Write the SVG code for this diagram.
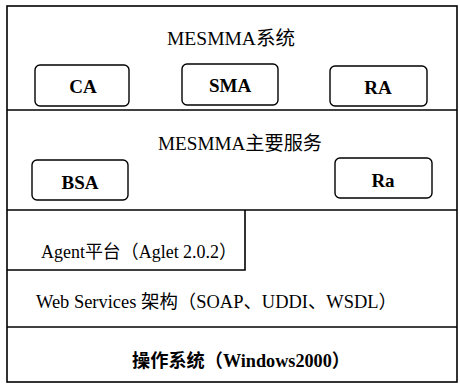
<svg xmlns="http://www.w3.org/2000/svg" width="460" height="385" viewBox="0 0 460 385">
<style>
.ln{stroke:#000;stroke-width:1.6;fill:none}
.bx{stroke:#000;stroke-width:1.4;fill:#fff}
.t{font-family:"Liberation Serif","Noto Sans CJK SC",serif;fill:#000}
.ti{font-size:19px}
.lb{font-size:19px;font-weight:bold}
.nm{font-size:18.5px}
.os{font-size:18.5px;font-weight:bold}
</style>
<rect width="460" height="385" fill="#fff"/>
<g id="frame">
<rect class="ln" x="7" y="6" width="450" height="376"/>
<line class="ln" x1="7" y1="110" x2="457" y2="110"/>
<line class="ln" x1="7" y1="210" x2="457" y2="210"/>
<line class="ln" x1="7" y1="327" x2="457" y2="327"/>
</g>
<g id="mesmma-system">
<text class="t ti" x="167" y="45" textLength="128" lengthAdjust="spacingAndGlyphs">MESMMA系统</text>
</g>
<g id="CA"><rect class="bx" x="35" y="65" width="94" height="41" rx="5"/><text class="t lb" x="83" y="93" text-anchor="middle">CA</text></g>
<g id="SMA"><rect class="bx" x="182" y="64" width="96" height="41" rx="5"/><text class="t lb" x="230" y="92" text-anchor="middle">SMA</text></g>
<g id="RA"><rect class="bx" x="330" y="66" width="97" height="40" rx="5"/><text class="t lb" x="378" y="94" text-anchor="middle">RA</text></g>
<g id="mesmma-services">
<text class="t ti" x="158" y="150" textLength="164" lengthAdjust="spacingAndGlyphs">MESMMA主要服务</text>
</g>
<g id="BSA"><rect class="bx" x="32" y="160" width="96" height="40" rx="5"/><text class="t lb" x="80" y="189" text-anchor="middle">BSA</text></g>
<g id="Ra"><rect class="bx" x="335" y="158" width="97" height="40" rx="5"/><text class="t lb" x="383" y="187" text-anchor="middle">Ra</text></g>
<g id="agent">
<polyline class="ln" points="7,270 245,270 245,210"/>
<text class="t nm" x="41" y="258" textLength="196" lengthAdjust="spacingAndGlyphs">Agent平台（Aglet 2.0.2）</text>
</g>
<g id="webservices">
<text class="t nm" x="36" y="308" textLength="361" lengthAdjust="spacingAndGlyphs">Web Services 架构（SOAP、UDDI、WSDL）</text>
</g>
<g id="os">
<text class="t os" x="132" y="367" textLength="218" lengthAdjust="spacingAndGlyphs">操作系统（Windows2000）</text>
</g>
<g id="connectors"></g>
</svg>
